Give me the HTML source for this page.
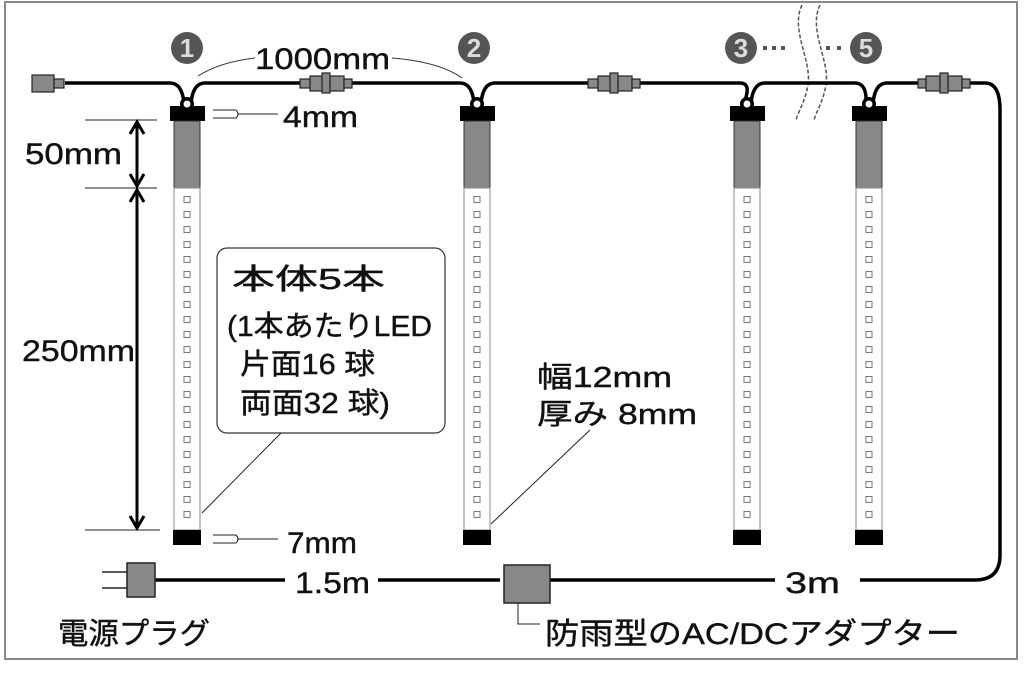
<!DOCTYPE html>
<html><head><meta charset="utf-8"><style>
html,body{margin:0;padding:0;background:#fff}
svg text{font-family:"Liberation Sans","Noto Sans CJK JP",sans-serif;fill:#111;stroke:#111;stroke-width:0.4}
</style></head><body>
<svg width="1024" height="683" viewBox="0 0 1024 683" xmlns="http://www.w3.org/2000/svg">
<rect x="0" y="0" width="1024" height="683" fill="#fff"/>
<rect x="5" y="2" width="1012" height="657" fill="none" stroke="#888" stroke-width="2"/>

<path d="M802 5 C790 30 812 60 808 85 C805 102 798 112 796 120" fill="none" stroke="#555" stroke-width="1.5" stroke-dasharray="4 2"/>
<path d="M820 5 C808 30 830 60 826 85 C823 102 816 112 814 120" fill="none" stroke="#555" stroke-width="1.5" stroke-dasharray="4 2"/>

<g fill="none" stroke="#000" stroke-width="3.5">
<path d="M65 83 H170 Q182 83 184 103"/>
<path d="M191 103 Q193 83 205 83 H460 Q472 83 474 103"/>
<path d="M481 103 Q483 83 495 83 H740 Q752 83 744 103"/>
<path d="M751 103 Q753 83 765 83 H855 Q867 83 866 103"/>
<path d="M873 103 Q875 83 887 83 H985 Q1000 83 1000 110 V555 Q1000 580 975 580 H860"/>
<path d="M155 580 H285"/>
<path d="M378 580 H500"/>
<path d="M550 580 H775"/>
</g>

<g fill="#888" stroke="#222" stroke-width="1.2">
<rect x="32" y="75" width="22" height="17"/><rect x="54" y="79" width="10" height="9"/>
<rect x="300" y="79" width="10" height="9"/><rect x="310" y="76" width="14" height="15"/><rect x="322" y="73" width="8" height="20"/><rect x="330" y="76" width="14" height="15"/><rect x="344" y="79" width="8" height="9"/>
<rect x="588" y="79" width="10" height="9"/><rect x="598" y="76" width="14" height="15"/><rect x="610" y="73" width="8" height="20"/><rect x="618" y="76" width="14" height="15"/><rect x="632" y="79" width="8" height="9"/>
<rect x="918" y="79" width="8" height="9"/><rect x="926" y="76" width="14" height="15"/><rect x="940" y="73" width="8" height="20"/><rect x="948" y="76" width="14" height="15"/><rect x="962" y="79" width="8" height="9"/>
</g>

<g transform="translate(170,0)">
<rect x="0" y="106" width="35" height="15" fill="#000"/><circle cx="17" cy="104" r="7" fill="#000"/><circle cx="17" cy="104" r="3.5" fill="#fff"/>
<rect x="4" y="121" width="26" height="67" fill="#888" stroke="#333"/>
<rect x="4" y="188" width="26" height="342" fill="#fff" stroke="#888"/>
<line x1="17" y1="196" x2="17" y2="525" stroke="#777" stroke-width="7" stroke-dasharray="7 8"/>
<line x1="17" y1="197" x2="17" y2="525" stroke="#fff" stroke-width="5" stroke-dasharray="5 10"/>
<rect x="3" y="530" width="28" height="15" fill="#000"/>
</g>
<g transform="translate(460,0)">
<rect x="0" y="106" width="35" height="15" fill="#000"/><circle cx="17" cy="104" r="7" fill="#000"/><circle cx="17" cy="104" r="3.5" fill="#fff"/>
<rect x="4" y="121" width="26" height="67" fill="#888" stroke="#333"/>
<rect x="4" y="188" width="26" height="342" fill="#fff" stroke="#888"/>
<line x1="17" y1="196" x2="17" y2="525" stroke="#777" stroke-width="7" stroke-dasharray="7 8"/>
<line x1="17" y1="197" x2="17" y2="525" stroke="#fff" stroke-width="5" stroke-dasharray="5 10"/>
<rect x="3" y="530" width="28" height="15" fill="#000"/>
</g>
<g transform="translate(730,0)">
<rect x="0" y="106" width="35" height="15" fill="#000"/><circle cx="17" cy="104" r="7" fill="#000"/><circle cx="17" cy="104" r="3.5" fill="#fff"/>
<rect x="4" y="121" width="26" height="67" fill="#888" stroke="#333"/>
<rect x="4" y="188" width="26" height="342" fill="#fff" stroke="#888"/>
<line x1="17" y1="196" x2="17" y2="525" stroke="#777" stroke-width="7" stroke-dasharray="7 8"/>
<line x1="17" y1="197" x2="17" y2="525" stroke="#fff" stroke-width="5" stroke-dasharray="5 10"/>
<rect x="3" y="530" width="28" height="15" fill="#000"/>
</g>
<g transform="translate(852,0)">
<rect x="0" y="106" width="35" height="15" fill="#000"/><circle cx="17" cy="104" r="7" fill="#000"/><circle cx="17" cy="104" r="3.5" fill="#fff"/>
<rect x="4" y="121" width="26" height="67" fill="#888" stroke="#333"/>
<rect x="4" y="188" width="26" height="342" fill="#fff" stroke="#888"/>
<line x1="17" y1="196" x2="17" y2="525" stroke="#777" stroke-width="7" stroke-dasharray="7 8"/>
<line x1="17" y1="197" x2="17" y2="525" stroke="#fff" stroke-width="5" stroke-dasharray="5 10"/>
<rect x="3" y="530" width="28" height="15" fill="#000"/>
</g>

<circle cx="187" cy="48" r="16" fill="#555"/><text x="187" y="57" font-size="26" font-weight="bold" text-anchor="middle" style="fill:#ddd;stroke:none">1</text>
<circle cx="474" cy="48" r="16" fill="#555"/><text x="474" y="57" font-size="26" font-weight="bold" text-anchor="middle" style="fill:#ddd;stroke:none">2</text>
<circle cx="741" cy="48" r="16" fill="#555"/><text x="741" y="57" font-size="26" font-weight="bold" text-anchor="middle" style="fill:#ddd;stroke:none">3</text>
<circle cx="866" cy="48" r="16" fill="#555"/><text x="866" y="57" font-size="26" font-weight="bold" text-anchor="middle" style="fill:#ddd;stroke:none">5</text>
<g fill="#555"><rect x="763" y="46" width="4" height="4"/><rect x="772" y="46" width="4" height="4"/><rect x="781" y="46" width="4" height="4"/><rect x="826" y="46" width="4" height="4"/><rect x="837" y="46" width="4" height="4"/></g>

<path d="M198 76 Q220 62 255 58" fill="none" stroke="#333" stroke-width="1"/>
<path d="M392 58 Q440 62 462 78" fill="none" stroke="#333" stroke-width="1"/>
<text x="255" y="69" font-size="30" textLength="135" lengthAdjust="spacingAndGlyphs">1000mm</text>

<g stroke="#222" stroke-width="1" fill="none">
<line x1="213" y1="110" x2="236" y2="110"/><line x1="213" y1="118" x2="236" y2="118"/><path d="M236 110 Q240 114 236 118"/><line x1="238" y1="114" x2="278" y2="114"/>
<line x1="213" y1="535" x2="236" y2="535"/><line x1="213" y1="543" x2="236" y2="543"/><path d="M236 535 Q240 539 236 543"/><line x1="238" y1="539" x2="278" y2="539"/>
</g>
<text x="283" y="127" font-size="30" textLength="75" lengthAdjust="spacingAndGlyphs">4mm</text>
<text x="287" y="553" font-size="30" textLength="70" lengthAdjust="spacingAndGlyphs">7mm</text>

<g stroke="#222" stroke-width="1">
<line x1="85" y1="120" x2="157" y2="120"/><line x1="85" y1="188" x2="157" y2="188"/><line x1="85" y1="530" x2="160" y2="530"/>
</g>
<g stroke="#000" stroke-width="3" fill="none">
<line x1="137" y1="124" x2="137" y2="184"/><path d="M130 134 L137 122 L144 134"/><path d="M130 174 L137 186 L144 174"/>
<line x1="137" y1="192" x2="137" y2="526"/><path d="M130 202 L137 190 L144 202"/><path d="M130 516 L137 528 L144 516"/>
</g>
<text x="25" y="164" font-size="30" textLength="97" lengthAdjust="spacingAndGlyphs">50mm</text>
<text x="22" y="361" font-size="30" textLength="113" lengthAdjust="spacingAndGlyphs">250mm</text>

<rect x="217" y="248" width="228" height="185" rx="10" fill="#fff" stroke="#333" stroke-width="1.2"/>
<line x1="281" y1="433" x2="202" y2="513" stroke="#222" stroke-width="1"/>
<text x="232" y="289" font-size="29" textLength="153" lengthAdjust="spacingAndGlyphs">本体5本</text>
<text x="227" y="336" font-size="29" textLength="205" lengthAdjust="spacingAndGlyphs">(1本あたりLED</text>
<text x="240" y="374" font-size="29" textLength="135" lengthAdjust="spacingAndGlyphs">片面16 球</text>
<text x="240" y="413" font-size="29" textLength="150" lengthAdjust="spacingAndGlyphs">両面32 球)</text>

<text x="537" y="387" font-size="29" textLength="135" lengthAdjust="spacingAndGlyphs">幅12mm</text>
<text x="537" y="424" font-size="29" textLength="160" lengthAdjust="spacingAndGlyphs">厚み 8mm</text>
<line x1="590" y1="430" x2="491" y2="524" stroke="#222" stroke-width="1"/>

<g stroke="#222" stroke-width="1.5">
<line x1="102" y1="572" x2="127" y2="572"/><line x1="102" y1="588" x2="127" y2="588"/>
<rect x="127" y="563" width="28" height="34" fill="#888"/>
<rect x="504" y="565" width="46" height="38" fill="#888"/>
</g>
<path d="M518 603 V624 H540" fill="none" stroke="#222" stroke-width="1"/>
<text x="295" y="593" font-size="30" textLength="75" lengthAdjust="spacingAndGlyphs">1.5m</text>
<text x="785" y="593" font-size="30" textLength="55" lengthAdjust="spacingAndGlyphs">3m</text>
<text x="58" y="644" font-size="30" textLength="152" lengthAdjust="spacingAndGlyphs">電源プラグ</text>
<text x="545" y="644" font-size="30" textLength="415" lengthAdjust="spacingAndGlyphs">防雨型のAC/DCアダプター</text>
</svg>
</body></html>
